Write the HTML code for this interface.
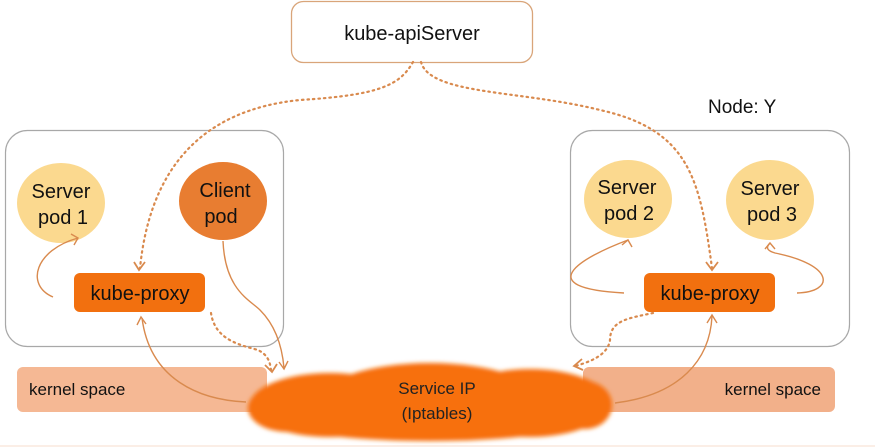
<!DOCTYPE html>
<html><head><meta charset="utf-8"><style>
html,body{margin:0;padding:0;background:#fff;}
svg{display:block;font-family:"Liberation Sans","DejaVu Sans",sans-serif;}
</style></head><body>
<svg width="875" height="447" viewBox="0 0 875 447" xmlns="http://www.w3.org/2000/svg">
<defs>
<filter id="b" x="-10%" y="-30%" width="120%" height="160%"><feGaussianBlur stdDeviation="2"/></filter>
</defs>
<rect x="0" y="0" width="875" height="447" fill="#fff"/>
<rect x="0" y="445" width="875" height="2" fill="#fbeee6"/>
<!-- api server -->
<rect x="291.5" y="1.5" width="241" height="61" rx="12" fill="#fff" stroke="#d9a57a" stroke-width="1.3"/>
<text x="412" y="40" font-size="20" text-anchor="middle" fill="#111">kube-apiServer</text>
<text x="708" y="113" font-size="19" fill="#111">Node:  Y</text>
<!-- node boxes -->
<rect x="5.5" y="130.5" width="278" height="216" rx="22" fill="none" stroke="#a8a8a8" stroke-width="1.2"/>
<rect x="570.5" y="130.5" width="279" height="216" rx="22" fill="none" stroke="#a8a8a8" stroke-width="1.2"/>
<!-- kernel space -->
<rect x="17" y="367" width="250" height="45" rx="6" fill="#f5b894"/>
<text x="29" y="395" font-size="17" fill="#111">kernel space</text>
<rect x="583" y="367" width="252" height="45" rx="6" fill="#f2b08a"/>
<text x="821" y="395" font-size="17" fill="#111" text-anchor="end">kernel space</text>
<!-- pods -->
<ellipse cx="61" cy="203" rx="44" ry="40" fill="#fbd98f"/>
<text x="61" y="198" font-size="20" text-anchor="middle" fill="#111">Server</text>
<text x="63" y="224" font-size="20" text-anchor="middle" fill="#111">pod 1</text>
<ellipse cx="223" cy="201" rx="44" ry="39" fill="#e87d31"/>
<text x="225" y="197" font-size="20" text-anchor="middle" fill="#111">Client</text>
<text x="221" y="223" font-size="20" text-anchor="middle" fill="#111">pod</text>
<ellipse cx="628" cy="199" rx="44" ry="39" fill="#fbd98f"/>
<text x="627" y="194" font-size="20" text-anchor="middle" fill="#111">Server</text>
<text x="629" y="220" font-size="20" text-anchor="middle" fill="#111">pod 2</text>
<ellipse cx="770" cy="200" rx="44" ry="40" fill="#fbd98f"/>
<text x="770" y="195" font-size="20" text-anchor="middle" fill="#111">Server</text>
<text x="772" y="221" font-size="20" text-anchor="middle" fill="#111">pod 3</text>
<!-- kube-proxy -->
<rect x="74" y="273" width="131" height="39" rx="6" fill="#f2700f"/>
<text x="140" y="300" font-size="20" text-anchor="middle" fill="#111">kube-proxy</text>
<rect x="644" y="273" width="131" height="39" rx="6" fill="#f2700f"/>
<text x="710" y="300" font-size="20" text-anchor="middle" fill="#111">kube-proxy</text>
<!-- cloud -->
<g fill="#f7700f" filter="url(#b)">
<ellipse cx="330" cy="405" rx="80" ry="32"/>
<ellipse cx="430" cy="400" rx="110" ry="37"/>
<ellipse cx="530" cy="403" rx="80" ry="34"/>
<ellipse cx="288" cy="408" rx="40" ry="24"/>
<ellipse cx="585" cy="405" rx="27" ry="24"/>
<ellipse cx="430" cy="420" rx="150" ry="21"/>
</g>
<text x="437" y="394" font-size="17" text-anchor="middle" fill="#222">Service IP</text>
<text x="437" y="419" font-size="17" text-anchor="middle" fill="#222">(Iptables)</text>
<!-- dotted connectors -->
<g fill="none" stroke="#d98a4e" stroke-width="2.2" stroke-dasharray="1.5 4" stroke-linecap="round">
<path d="M413 62 C400 85 380 95 300 100 C200 110 150 170 140 268"/>
<path d="M421 62 C430 95 520 90 600 110 C690 130 700 180 712 268"/>
<path d="M211 313 C215 340 240 345 258 350 C268 355 270 362 271 370"/>
<path d="M653 313 C630 318 610 320 610 340 C608 355 590 362 575 366"/>
</g>
<g fill="none" stroke="#d98a4e" stroke-width="1.8">
<path d="M134 262 L139 270 L145 262"/>
<path d="M706 262 L712 270 L718 262"/>
<path d="M265 365 L272 372 L277 364"/>
<path d="M582 359 L574 366 L583 370"/>
</g>
<!-- solid connectors -->
<g fill="none" stroke="#d98a4e" stroke-width="1.4">
<path d="M53 297 C25 285 35 250 78 238"/>
<path d="M71 234 L78 238 L74 245"/>
<path d="M223 241 C225 290 250 300 260 310 C275 325 282 345 284 368"/>
<path d="M279 362 L284 369 L288 361"/>
<path d="M246 402 C200 400 150 380 142 318"/>
<path d="M137 325 L141 317 L146 324"/>
<path d="M624 293 C530 288 580 258 628 240"/>
<path d="M622 245 L628 240 L632 247"/>
<path d="M797 293 C835 292 835 265 775 253 C768 251 765 248 770 243"/>
<path d="M765 249 L770 243 L775 249"/>
<path d="M615 403 C680 395 710 360 712 316"/>
<path d="M707 323 L712 315 L717 323"/>
</g>
</svg>
</body></html>
